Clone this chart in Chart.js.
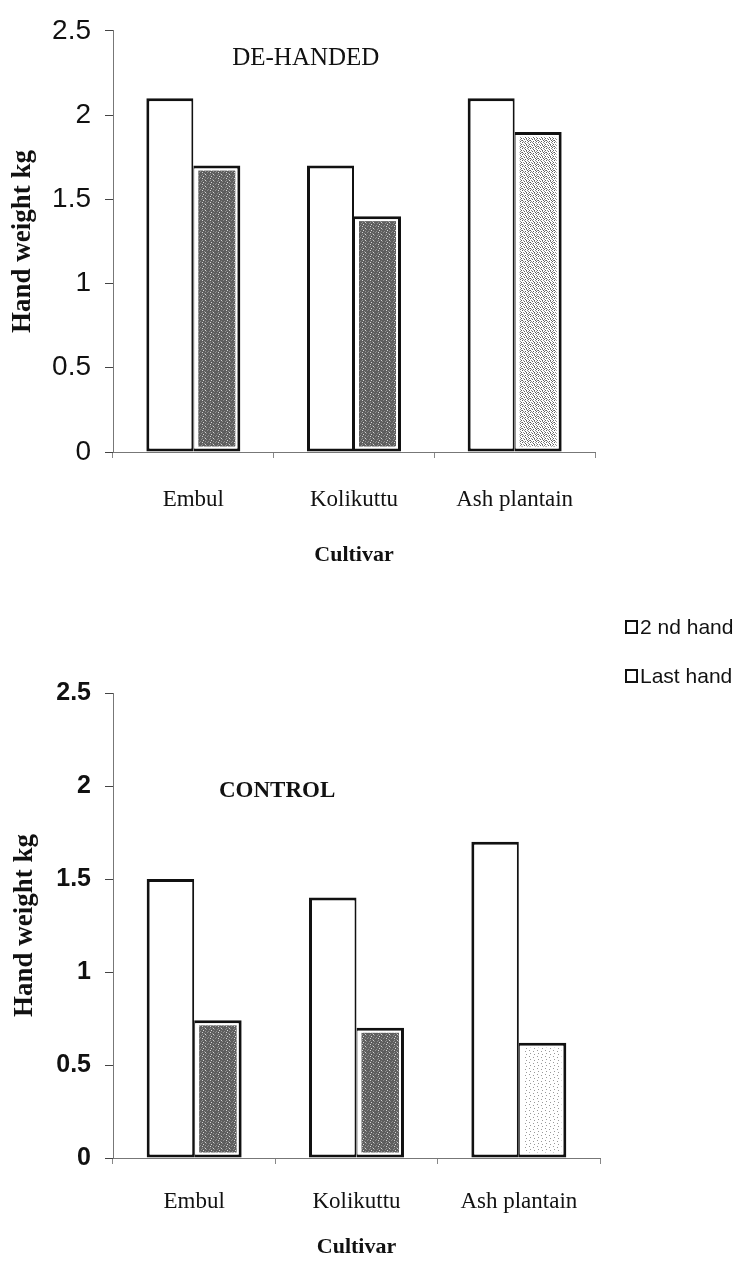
<!DOCTYPE html>
<html>
<head>
<meta charset="utf-8">
<script src="https://cdn.jsdelivr.net/npm/chart.js@4.4.0/dist/chart.umd.min.js"></script>
<style>
  html, body { margin: 0; padding: 0; background: #fff; }
  #wrap { position: relative; width: 749px; height: 1262px; overflow: hidden; }
  #topBox { position: absolute; left: 0; top: 0; width: 749px; height: 590px; }
  #bottomBox { position: absolute; left: 0; top: 590px; width: 749px; height: 672px; }
  #legend { position: absolute; left: 625px; top: 615px; font-family: "Liberation Sans", Arial, sans-serif; font-size: 21px; color: #111; }
  #legend .row { display: flex; align-items: center; height: 24px; margin-bottom: 25px; }
  #legend .sw { width: 9px; height: 10px; border: 2px solid #111; background: #fff; margin-right: 2px; }
</style>
</head>
<body>
<div id="wrap">
  <div id="topBox"><canvas id="topChart"></canvas></div>
  <div id="bottomBox"><canvas id="bottomChart"></canvas></div>
  <div id="legend"></div>
</div>
<script>
// data
const categories = ["Embul", "Kolikuttu", "Ash plantain"];
const seriesNames = ["2 nd hand", "Last hand"];
const yTicks = [0, 0.5, 1, 1.5, 2, 2.5];

const dehanded2nd = [2.1, 1.7, 2.1];
const dehandedLast = [1.7, 1.4, 1.9];

const control2nd = [1.5, 1.4, 1.7];
const controlLast = [0.74, 0.7, 0.62];

// stipple tiles for the "Last hand" bars (just texture, no data)
const tileColors = { a: "#5e5e5e", b: "#8e8e8e", c: "#d4d4d4", w: "#ffffff", l: "#9a9a9a" };
const darkTile = ["aabaacaa", "abaaaaba", "aaacaaaa", "baaaabaa", "aacaaaab", "aaaabaaa"];
const midTile = ["wawbwwaw", "bwwwawbw", "wbawwwwa", "awwbwaww", "wwawbwwb", "bwwwwaww"];
const paleTile = ["wwwwwwww", "wwlwwwww", "wwwwwwlw", "wwwwwwww", "wlwwwwww", "wwwwwlww"];

function makePattern(rows) {
    const c = document.createElement("canvas");
    c.width = rows[0].length;
    c.height = rows.length;
    const g = c.getContext("2d");
    rows.forEach((row, y) => {
        [...row].forEach((ch, x) => {
            g.fillStyle = tileColors[ch];
            g.fillRect(x, y, 1, 1);
        });
    });
    return c.getContext("2d").createPattern(c, "repeat");
}

const serif = "'Liberation Serif', 'Times New Roman', serif";
const sans = "'Liberation Sans', Arial, sans-serif";

// fill the inside of the Last hand bars with stipple, leaving a white gap
const stipplePlugin = {
    id: "stipple",
    afterDatasetsDraw(chart, args, opts) {
        const ctx = chart.ctx;
        const meta = chart.getDatasetMeta(1);
        meta.data.forEach((bar, i) => {
            const p = bar.getProps(["x", "y", "base", "width"], true);
            const inset = 5;
            ctx.save();
            ctx.fillStyle = opts.patterns[i];
            ctx.fillRect(p.x - p.width / 2 + inset, p.y + inset,
                p.width - 2 * inset, p.base - p.y - 2 * inset);
            ctx.restore();
        });
    }
};

const panelLabel = {
    id: "panelLabel",
    afterDraw(chart, args, opts) {
        const a = chart.chartArea;
        const ctx = chart.ctx;
        ctx.save();
        ctx.font = opts.font;
        ctx.fillStyle = "#111";
        ctx.textAlign = "center";
        ctx.textBaseline = "middle";
        ctx.fillText(opts.text, a.left + opts.fx * (a.right - a.left), a.top + opts.dy);
        ctx.restore();
    }
};

function makeChart(id, cfg) {
    return new Chart(document.getElementById(id), {
        type: "bar",
        data: {
            labels: categories,
            datasets: [{
                label: seriesNames[0],
                data: cfg.second,
                backgroundColor: "#ffffff",
                borderColor: "#111",
                borderWidth: { left: 3, top: 3, right: 2, bottom: 3 },
                borderSkipped: false
            }, {
                label: seriesNames[1],
                data: cfg.last,
                backgroundColor: "#ffffff",
                borderColor: "#111",
                borderWidth: { left: 1, top: 3, right: 3, bottom: 3 },
                borderSkipped: false
            }]
        },
        options: {
            responsive: true,
            maintainAspectRatio: false,
            animation: false,
            datasets: { bar: { categoryPercentage: 0.585, barPercentage: 1.0 } },
            layout: { padding: { top: cfg.padTop, right: cfg.padRight, left: 0, bottom: 0 } },
            plugins: {
                legend: { display: false },
                tooltip: { enabled: false },
                stipple: { patterns: cfg.patterns },
                panelLabel: cfg.label
            },
            scales: {
                x: {
                    afterFit: (s) => { s.height = cfg.xHeight; },
                    grid: { drawOnChartArea: false, tickLength: 6, color: "#888", lineWidth: 1 },
                    border: { display: true, color: "#777", width: 1, dash: [5, 3] },
                    ticks: { padding: cfg.xTickPad, color: "#111", font: { family: serif, size: 23 } },
                    title: {
                        display: true, text: "Cultivar", color: "#111",
                        font: { family: serif, size: 22, weight: "bold" },
                        padding: { top: 0, bottom: cfg.xTitlePad }
                    }
                },
                y: {
                    min: 0,
                    max: 2.5,
                    afterFit: (s) => { s.width = 113; },
                    afterBuildTicks: (s) => { s.ticks = yTicks.map(v => ({ value: v })); },
                    grid: { drawOnChartArea: false, tickLength: 8, color: "#444", lineWidth: 1 },
                    border: { display: true, color: "#777", width: 1, dash: [5, 3] },
                    ticks: {
                        padding: 14, color: "#111", font: cfg.tickFont,
                        callback: (v) => String(Number(v))
                    },
                    title: {
                        display: true, text: "Hand weight kg", color: "#111",
                        font: { family: serif, size: 27, weight: "bold" },
                        padding: { top: cfg.yTitlePad, bottom: 0 }
                    }
                }
            }
        },
        plugins: [stipplePlugin, panelLabel]
    });
}

makeChart("topChart", {
    second: dehanded2nd,
    last: dehandedLast,
    patterns: [makePattern(darkTile), makePattern(darkTile), makePattern(midTile)],
    padTop: 24, padRight: 154, xHeight: 138, xTickPad: 28, xTitlePad: 21, yTitlePad: 7,
    tickFont: { family: sans, size: 28 },
    label: { text: "DE-HANDED", font: "25px " + serif, fx: 0.4, dy: 28 }
});

makeChart("bottomChart", {
    second: control2nd,
    last: controlLast,
    patterns: [makePattern(darkTile), makePattern(darkTile), makePattern(paleTile)],
    padTop: 103, padRight: 149, xHeight: 104, xTickPad: 24, xTitlePad: 1, yTitlePad: 9,
    tickFont: { family: sans, size: 25, weight: "bold" },
    label: { text: "CONTROL", font: "bold 23px " + serif, fx: 0.337, dy: 98 }
});

// legend
const legend = document.getElementById("legend");
seriesNames.forEach(name => {
    const row = document.createElement("div");
    row.className = "row";
    const sw = document.createElement("span");
    sw.className = "sw";
    const t = document.createElement("span");
    t.textContent = name;
    row.appendChild(sw);
    row.appendChild(t);
    legend.appendChild(row);
});
</script>
</body>
</html>
